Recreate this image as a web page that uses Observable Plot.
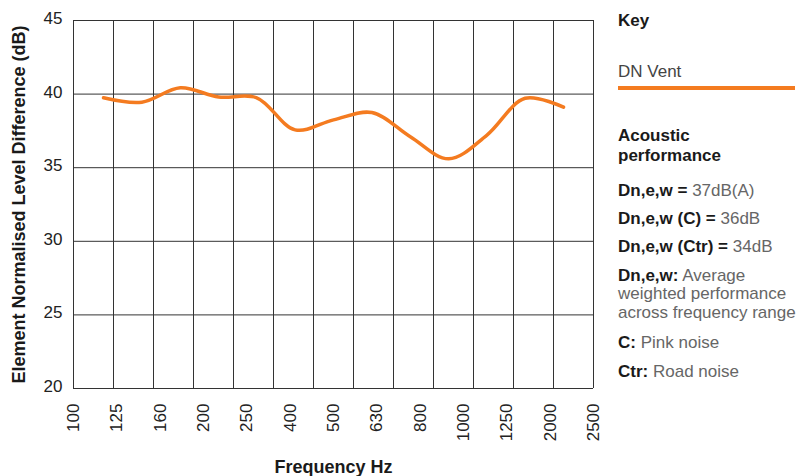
<!DOCTYPE html>
<html>
<head>
<meta charset="utf-8">
<script src="https://cdn.jsdelivr.net/npm/d3@7"></script>
<script src="https://cdn.jsdelivr.net/npm/@observablehq/plot@0.6"></script>
<style>
  html, body { margin: 0; padding: 0; background: #fff; }
  #wrap { position: relative; width: 810px; height: 476px; font-family: "Liberation Sans", Arial, sans-serif; }
  #panel div { position: absolute; left: 618px; white-space: nowrap; font-size: 17px; color: #666; }
  #panel b { color: #1a1a1a; font-weight: 700; }
</style>
</head>
<body>
<div id="wrap">
  <div id="chart"></div>
  <div id="panel">
    <div style="top:11.6px;line-height:17px;"><b>Key</b></div>
    <div style="top:62.6px;line-height:17px;color:#444;">DN Vent</div>
    <div style="top:86px;width:177px;height:4px;background:#f47b20;"></div>
    <div style="top:125.8px;line-height:20px;"><b>Acoustic<br>performance</b></div>
    <div style="top:181.9px;line-height:18.5px;"><b>Dn,e,w =</b> 37dB(A)</div>
    <div style="top:209.9px;line-height:18.5px;"><b>Dn,e,w (C) =</b> 36dB</div>
    <div style="top:237.9px;line-height:18.5px;"><b>Dn,e,w (Ctr) =</b> 34dB</div>
    <div style="top:266.6px;line-height:18.5px;"><b>Dn,e,w:</b> Average<br>weighted performance<br>across frequency range</div>
    <div style="top:334.2px;line-height:18.5px;"><b>C:</b> Pink noise</div>
    <div style="top:362.6px;line-height:18.5px;"><b>Ctr:</b> Road noise</div>
  </div>
</div>
<script>
// Frequency labels along the x axis (as printed)
const xLabels = ["100","125","160","200","250","400","500","630","800","1000","1250","2000","2500"];
// Grid columns (14 vertical lines, 13 cells)
const gridCols = [0,1,2,3,4,5,6,7,8,9,10,11,12,13];
// y ticks
const yTicks = [20,25,30,35,40,45];
// Measurement positions (in grid-cell units) and DN Vent values (dB)
const bandPos = [0.75,1.71,2.67,3.63,4.58,5.54,6.5,7.46,8.42,9.38,10.33,11.29,12.25];
const dnVent  = [39.75,39.45,40.43,39.8,39.75,37.57,38.25,38.75,37.1,35.6,37.2,39.72,39.11];

const series = bandPos.map((p, i) => ({pos: p, value: dnVent[i]}));
const labelData = xLabels.map((t, i) => ({t, pos: i * 13 / 12}));

const plot = Plot.plot({
  width: 810,
  height: 476,
  marginLeft: 73,
  marginRight: 217,
  marginTop: 20,
  marginBottom: 88,
  style: {fontFamily: "'Liberation Sans', Arial, sans-serif", color: "#222", background: "#fff"},
  x: {domain: [0, 13], axis: null},
  y: {domain: [20, 45], axis: null},
  marks: [
    Plot.ruleX(gridCols, {x: d => d, stroke: "#333", strokeWidth: 1}),
    Plot.ruleY(yTicks, {y: d => d, stroke: "#333", strokeWidth: 1}),
    Plot.line(series, {x: "pos", y: "value", curve: "catmull-rom", stroke: "#f47b20", strokeWidth: 3.5}),
    Plot.text(yTicks, {y: d => d, frameAnchor: "left", text: d => String(d), textAnchor: "end", dx: -11, dy: -2, fontSize: 17, fill: "#222"}),
    Plot.text(labelData, {x: "pos", frameAnchor: "bottom", text: "t", rotate: -90, textAnchor: "end", lineAnchor: "middle", dy: 15, fontSize: 17, fill: "#222"}),
    Plot.text(["Element Normalised Level Difference (dB)"], {frameAnchor: "left", text: d => d, rotate: -90, textAnchor: "middle", lineAnchor: "middle", dx: -54, fontSize: 18, fontWeight: "bold", fill: "#1a1a1a"}),
    Plot.text(["Frequency Hz"], {frameAnchor: "bottom", text: d => d, textAnchor: "middle", lineAnchor: "middle", dy: 78.5, fontSize: 18, fontWeight: "bold", fill: "#1a1a1a"})
  ]
});
document.getElementById("chart").appendChild(plot);
</script>
</body>
</html>
